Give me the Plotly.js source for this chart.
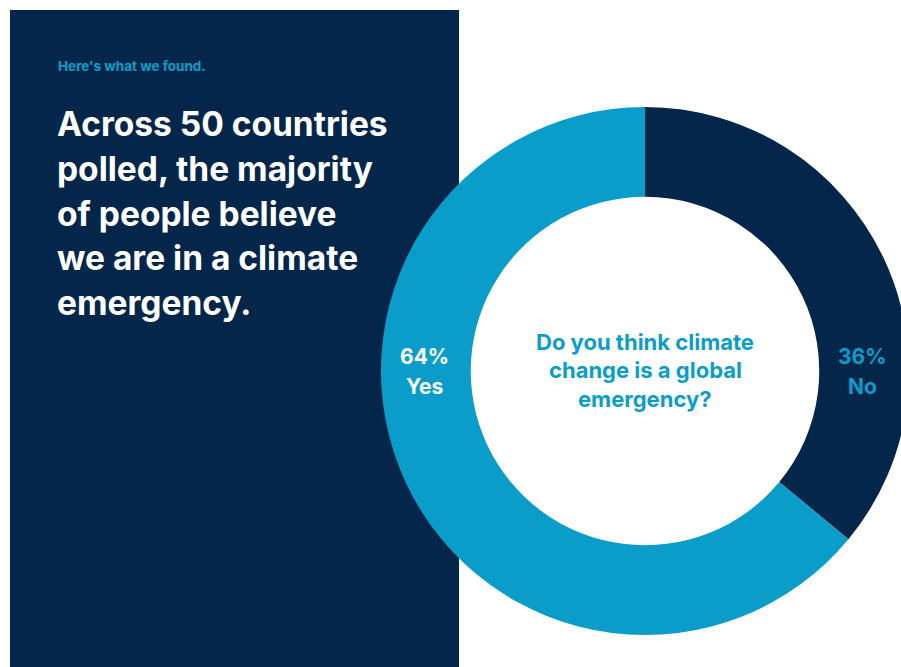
<!DOCTYPE html>
<html><head><meta charset="utf-8">
<script src="https://cdn.plot.ly/plotly-3.0.1.min.js"></script>
<style>html,body{margin:0;padding:0;overflow:hidden;background:#fff;width:901px;height:667px}</style>
</head><body><div id="chart" style="width:920px;height:667px"></div>
<script>
// ---- data ----
const categories = ["No", "Yes"];
const values = [36, 64];
const kicker = "Here's what we found.";
const headlineLines = ["Across 50 countries", "polled, the majority", "of people believe", "we are in a climate", "emergency."];
const questionLines = ["Do you think climate", "change is a global", "emergency?"];

// ---- styles ----
const NAVY = "#05264b";
const BLUE = "#0b9dca";
const FONT = "Inter, 'Open Sans', sans-serif";
const W = 920, H = 667;
const px = x => x / W;
const py = y => 1 - y / H;

const annotations = [];
function addLine(text, x, yMid, size, color, xanchor) {
  annotations.push({
    text: text, xref: "paper", yref: "paper", x: px(x), y: py(yMid),
    xanchor: xanchor, yanchor: "middle", showarrow: false,
    font: {family: FONT, size: size, color: color, weight: 700}
  });
}

addLine(kicker, 56, 66, 13.5, BLUE, "left");
headlineLines.forEach((t, i) => addLine(t, 55, 124 + i * 44.8, 33.5, "#ffffff", "left"));
questionLines.forEach((t, i) => addLine(t, 645, 342 + i * 28.5, 22, BLUE, "center"));

// slice labels from data
const labelSpec = {Yes: {x: 424, color: "#ffffff"}, No: {x: 862, color: BLUE}};
categories.forEach((c, i) => {
  const s = labelSpec[c];
  addLine(values[i] + "%", s.x, 357, 21, s.color, "center");
  addLine(c, s.x, 386, 21, s.color, "center");
});

const trace = {
  type: "pie",
  labels: categories,
  values: values,
  sort: false,
  direction: "clockwise",
  rotation: 0,
  hole: 0.66,
  textinfo: "none",
  hoverinfo: "label+percent",
  marker: {colors: [NAVY, BLUE], line: {width: 0}},
  domain: {x: [px(381), px(909)], y: [py(636), py(106)]},
  showlegend: false
};

const layout = {
  width: W, height: H,
  margin: {l: 0, r: 0, t: 0, b: 0},
  paper_bgcolor: "#ffffff",
  showlegend: false,
  shapes: [{type: "rect", xref: "paper", yref: "paper", x0: px(10), x1: px(459), y0: 0, y1: py(10),
            fillcolor: NAVY, line: {width: 0}, layer: "below"}],
  annotations: annotations
};

Plotly.newPlot("chart", [trace], layout, {displayModeBar: false, staticPlot: true});
</script></body></html>
